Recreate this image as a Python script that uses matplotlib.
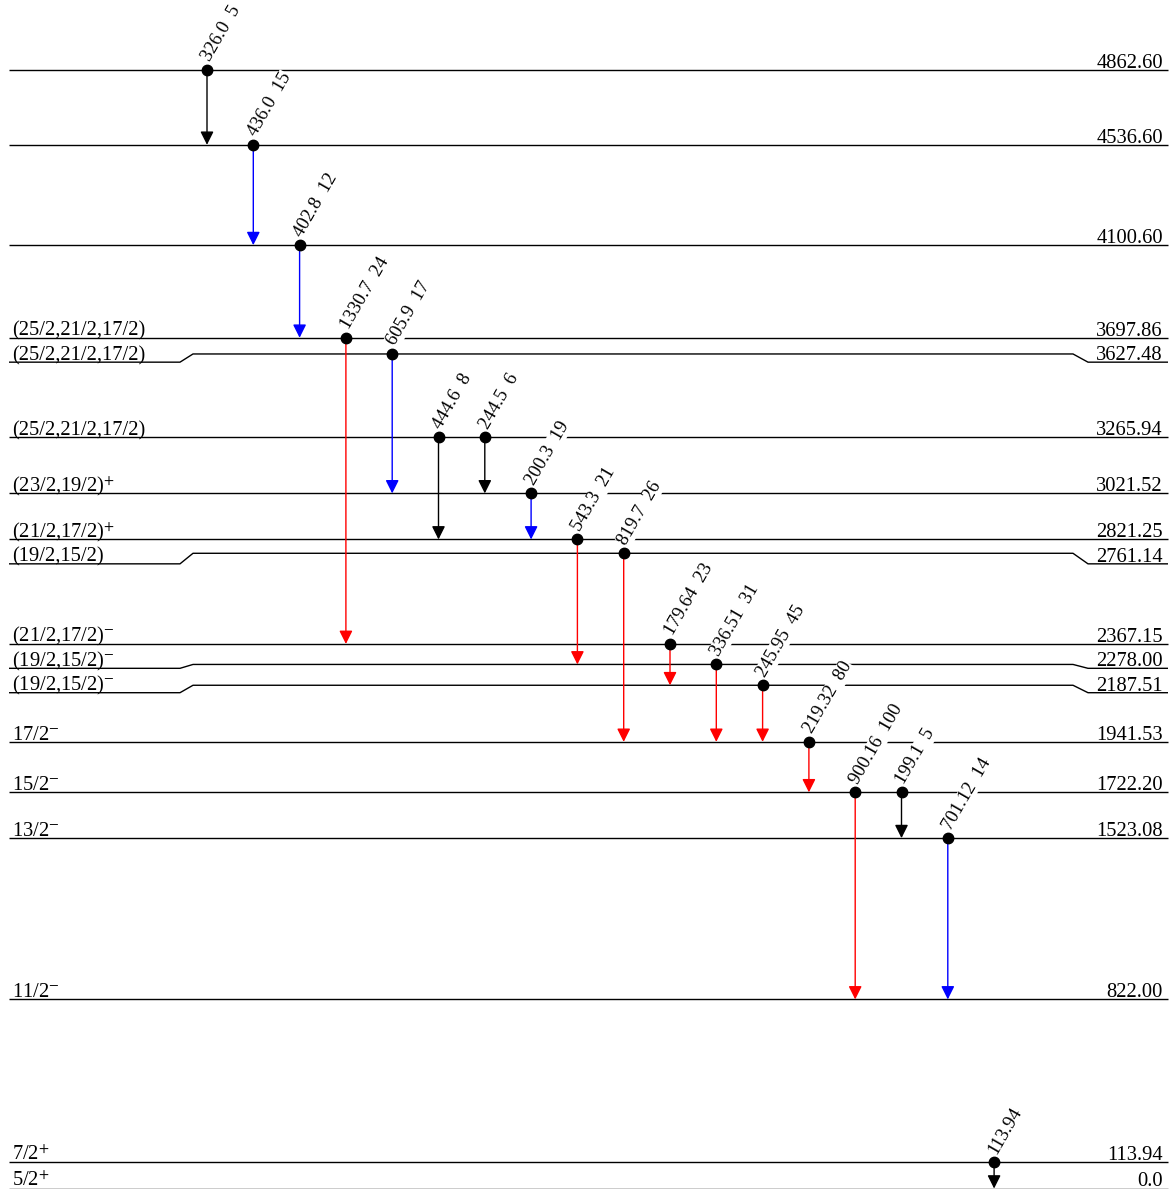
import matplotlib
matplotlib.use("Agg")
import matplotlib.pyplot as plt

plt.rcParams['font.family'] = ['Liberation Serif', 'DejaVu Serif']
plt.rcParams['mathtext.fontset'] = 'stix'

# levels (keV), top to bottom
level_energy = [4862.60, 4536.60, 4100.60, 3697.86, 3627.48, 3265.94, 3021.52,
                2821.25, 2761.14, 2367.15, 2278.00, 2187.51, 1941.53, 1722.20,
                1523.08, 822.00, 113.94, 0.0]
level_text = ["4862.60", "4536.60", "4100.60", "3697.86", "3627.48", "3265.94",
              "3021.52", "2821.25", "2761.14", "2367.15", "2278.00", "2187.51",
              "1941.53", "1722.20", "1523.08", "822.00", "113.94", "0.0"]
level_spin = ["", "", "",
              "(25/2,21/2,17/2)", "(25/2,21/2,17/2)", "(25/2,21/2,17/2)",
              r"(23/2,19/2)$^{+}$", r"(21/2,17/2)$^{+}$", "(19/2,15/2)",
              r"(21/2,17/2)$^{-}$", r"(19/2,15/2)$^{-}$", r"(19/2,15/2)$^{-}$",
              r"17/2$^{-}$", r"15/2$^{-}$", r"13/2$^{-}$", r"11/2$^{-}$",
              r"7/2$^{+}$", r"5/2$^{+}$"]

# gamma transitions, left to right
gamma_text = ["326.0", "436.0", "402.8", "1330.7", "605.9", "444.6", "244.5",
              "200.3", "543.3", "819.7", "179.64", "336.51", "245.95", "219.32",
              "900.16", "199.1", "701.12", "113.94"]
gamma_int = ["5", "15", "12", "24", "17", "8", "6", "19", "21", "26", "23",
             "31", "45", "80", "100", "5", "14", ""]
gamma_from = [4862.60, 4536.60, 4100.60, 3697.86, 3627.48, 3265.94, 3265.94,
              3021.52, 2821.25, 2761.14, 2367.15, 2278.00, 2187.51, 1941.53,
              1722.20, 1722.20, 1523.08, 113.94]
gamma_to = [4536.60, 4100.60, 3697.86, 2367.15, 3021.52, 2821.25, 3021.52,
            2821.25, 2278.00, 1941.53, 2187.51, 1941.53, 1941.53, 1722.20,
            822.00, 1523.08, 822.00, 0.0]
gamma_group = [0, 1, 1, 2, 1, 0, 0, 1, 2, 2, 2, 2, 2, 2, 2, 0, 1, 0]
group_color = ['black', 'blue', 'red']

# layout (x in pixels)
W, H = 1169, 1189
x_first, x_step = 207, 46.3
x_left, x_right = 9, 1168
kink = (180, 193, 1073, 1088)
label_sep = 106.0   # keV, min spacing of level labels
fs = 14.8

fig = plt.figure(figsize=(W / 100, H / 100), dpi=100)
ax = fig.add_axes([0, 0, 1, 1])
ax.set_xlim(0, W)
ax.set_ylim(-2.0, 5166.0)
ax.axis('off')

# label heights, pushed down when two levels are too close
label_y = []
prev = None
for e in level_energy:
    y = e if prev is None else min(e, prev - label_sep)
    label_y.append(y)
    prev = y

for e, ly, txt, spin in zip(level_energy, label_y, level_text, level_spin):
    if ly < e - 0.01:
        xs = [x_left, kink[0], kink[1], kink[2], kink[3], x_right]
        ys = [ly, ly, e, e, ly, ly]
    else:
        xs = [x_left, x_right]
        ys = [e, e]
    ax.plot(xs, ys, color='black', lw=1.0, zorder=1, solid_capstyle='butt')
    ax.annotate(txt, (1163, ly), xytext=(0, 1.5), textcoords='offset points',
                ha='right', va='baseline', fontsize=fs)
    if spin:
        ax.annotate(spin, (12, ly), xytext=(0, 1.5), textcoords='offset points',
                    ha='left', va='baseline', fontsize=fs)

for i in range(len(gamma_text)):
    x = x_first + i * x_step
    c = group_color[gamma_group[i]]
    ax.annotate('', xy=(x, gamma_to[i]), xytext=(x, gamma_from[i]),
                arrowprops=dict(arrowstyle='-|>', color=c, lw=1.0,
                                mutation_scale=20, shrinkA=0, shrinkB=0),
                zorder=3)
    ax.plot([x], [gamma_from[i]], 'o', color='black', ms=7.5, zorder=4)
    lab = gamma_text[i] + ("  " + gamma_int[i] if gamma_int[i] else "")
    ax.annotate(lab, (x, gamma_from[i]), xytext=(-0.8, 7.0),
                textcoords='offset points', rotation=60,
                rotation_mode='anchor', ha='left', va='center', fontsize=13.5,
                bbox=dict(facecolor='white', edgecolor='none', pad=0.3),
                zorder=2)

fig.savefig('out.png', dpi=100)
